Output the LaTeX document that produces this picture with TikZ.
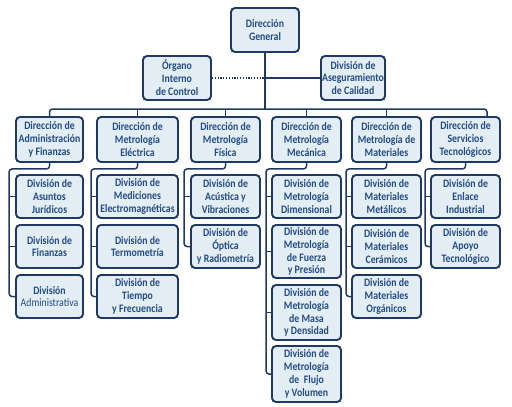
\documentclass[tikz,border=0pt]{standalone}
\usepackage{fontspec}
\newfontfamily\carlito{Carlito}[FakeStretch=0.86]
\newcommand\orgfont{\carlito\bfseries\fontsize{11.4}{12.8}\selectfont}
\definecolor{orgline}{HTML}{1F3864}
\definecolor{orgfill}{HTML}{E2EEF4}
\definecolor{orgtext}{HTML}{234B85}

\begin{document}
\begin{tikzpicture}[
    x=1pt, y=-1pt,
    box/.style={draw=orgline, fill=orgfill, line width=1.9pt, rounded corners=4pt, align=center, inner sep=1pt, text=orgtext, font=\orgfont, minimum width=69, minimum height=43},
    link/.style={draw=orgline, line width=1.5pt, rounded corners=3pt},
    dots/.style={draw=orgline, line width=1.3pt, dash pattern=on 1.2pt off 1.6pt},
]
\useasboundingbox (0,0) rectangle (512,407);

\node[box, minimum width=68, minimum height=44] (gen) at (265,30) {Dirección\\General};
\node[box, minimum width=68, minimum height=44] (oic) at (177,78) {Órgano\\Interno\\de Control};
\node[box, minimum width=64, minimum height=44] (asc) at (353,78) {División de\\Aseguramiento\\de Calidad};

\node[box, minimum width=67, minimum height=45] (adm) at (49.5,139.5) {Dirección de\\Administración\\y Finanzas};
\node[box, minimum width=81, minimum height=45] (ele) at (137.5,139.5) {Dirección de\\Metrología\\Eléctrica};
\node[box, minimum height=45] (fis) at (225.5,139.5) {Dirección de\\Metrología\\Física};
\node[box, minimum height=45] (mec) at (306.5,139.5) {Dirección de\\Metrología\\Mecánica};
\node[box, minimum height=45] (mat) at (386.5,139.5) {Dirección de\\Metrología de\\Materiales};
\node[box, minimum height=45] (ser) at (465.5,139.5) {Dirección de\\Servicios\\Tecnológicos};

\node[box, minimum width=67] (adm1) at (49.5,196.5) {División de\\Asuntos\\Jurídicos};
\node[box, minimum width=67] (adm2) at (49.5,246.5) {División de\\Finanzas};
\node[box, minimum width=67] (adm3) at (49.5,296.5) {División\\{\mdseries Administrativa}};

\node[box, minimum width=81] (ele1) at (137.5,196.5) {División de\\Mediciones\\Electromagnéticas};
\node[box, minimum width=81] (ele2) at (137.5,246.5) {División de\\Termometría};
\node[box, minimum width=81] (ele3) at (137.5,296.5) {División de\\Tiempo\\y Frecuencia};

\node[box] (fis1) at (225.5,196.5) {División de\\Acústica y\\Vibraciones};
\node[box] (fis2) at (225.5,246.5) {División de\\Óptica\\y Radiometría};

\node[box] (mec1) at (306.5,196.5) {División de\\Metrología\\Dimensional};
\node[box, minimum height=53] (mec2) at (306.5,251.5) {División de\\Metrología\\de Fuerza\\y Presión};
\node[box, minimum height=55] (mec3) at (306.5,312.5) {División de\\Metrología\\de Masa\\y Densidad};
\node[box, minimum height=56] (mec4) at (306.5,374) {División de\\Metrología\\de\ \ Flujo\\y Volumen};

\node[box] (mat1) at (386.5,196.5) {División de\\Materiales\\Metálicos};
\node[box] (mat2) at (386.5,246.5) {División de\\Materiales\\Cerámicos};
\node[box] (mat3) at (386.5,296.5) {División de\\Materiales\\Orgánicos};

\node[box] (ser1) at (465.5,196.5) {División de\\Enlace\\Industrial};
\node[box] (ser2) at (465.5,246.5) {División de\\Apoyo\\Tecnológico};

% top bus
\coordinate (hub) at (265,109);
\draw[link] (gen.south) -- (hub);
\draw[dots] (oic.east) -- (oic.east -| hub);
\draw[link] (asc.west) -- (asc.west -| hub);
\draw[link] (adm.north) |- (hub) -| ([xshift=21.5pt]ser.north);
\draw[link] (ele.north) -- (ele.north |- hub);
\draw[link] (fis.north) -- (fis.north |- hub);
\draw[link] (mec.north) -- (mec.north |- hub);
\draw[link] (mat.north) -- (mat.north |- hub);

% columns
\draw[link] (adm.south) -- ++(0,6) -| ([xshift=-6pt]adm3.west) -- (adm3.west);
\draw[link] (adm1.west) -- ++(-6,0) (adm2.west) -- ++(-6,0);
\draw[link] (ele.south) -- ++(0,6) -| ([xshift=-5pt]ele3.west) -- (ele3.west);
\draw[link] (ele1.west) -- ++(-5,0) (ele2.west) -- ++(-5,0);
\draw[link] (fis.south) -- ++(0,6) -| ([xshift=-6pt]fis2.west) -- (fis2.west);
\draw[link] (fis1.west) -- ++(-6,0);
\draw[link] (mec.south) -- ++(0,6) -| ([xshift=-5pt]mec4.west) -- (mec4.west);
\draw[link] (mec1.west) -- ++(-5,0) (mec2.west) -- ++(-5,0) (mec3.west) -- ++(-5,0);
\draw[link] (mat.south) -- ++(0,6) -| ([xshift=-5pt]mat3.west) -- (mat3.west);
\draw[link] (mat1.west) -- ++(-5,0) (mat2.west) -- ++(-5,0);
\draw[link] (ser.south) -- ++(0,6) -| ([xshift=-5pt]ser2.west) -- (ser2.west);
\draw[link] (ser1.west) -- ++(-5,0);
\end{tikzpicture}
\end{document}
